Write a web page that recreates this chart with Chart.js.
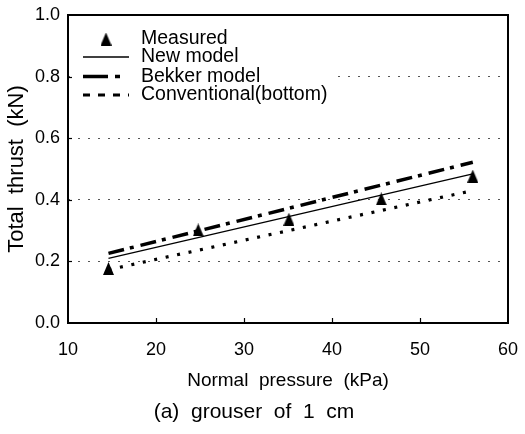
<!DOCTYPE html>
<html>
<head>
<meta charset="utf-8">
<script src="https://cdn.jsdelivr.net/npm/chart.js@4.4.1/dist/chart.umd.min.js"></script>
<style>
html,body{margin:0;padding:0;background:#fff;}
canvas{display:block;}
</style>
</head>
<body>
<canvas id="c" width="525" height="434"></canvas>
<script>
// ---- data ----
const pressure = [14.6, 24.8, 35.1, 45.6, 56.0];          // Normal pressure (kPa)
const measured = [0.177, 0.302, 0.337, 0.403, 0.477];     // Total thrust (kN)
const modelX = [14.6, 56.0];
const newModel = [0.210, 0.484];
const bekkerModel = [0.226, 0.522];
const conventional = [0.173, 0.430];
const xTicks = [10, 20, 30, 40, 50, 60];
const yTicks = [0.0, 0.2, 0.4, 0.6, 0.8, 1.0];
const seriesLabels = ['Measured', 'New model', 'Bekker model', 'Conventional(bottom)'];

const FONT = "'Liberation Sans', Arial, sans-serif";

// triangle marker
const tri = document.createElement('canvas');
tri.width = 11; tri.height = 13;
(function(){
  const t = tri.getContext('2d');
  t.fillStyle = '#000';
  t.beginPath(); t.moveTo(5.5, 0); t.lineTo(11, 13); t.lineTo(0, 13); t.closePath(); t.fill();
})();

const pts = (xs, ys) => xs.map((x, i) => ({x: x, y: ys[i]}));

const frameAndLegend = {
  id: 'frameAndLegend',
  afterDraw(chart) {
    const ctx = chart.ctx;
    const a = chart.chartArea;
    const xs = chart.scales.x, ys = chart.scales.y;
    ctx.save();
    // frame
    ctx.strokeStyle = '#000'; ctx.lineWidth = 2; ctx.setLineDash([]);
    ctx.strokeRect(a.left, a.top, a.right - a.left, a.bottom - a.top);
    // inward tick marks
    ctx.lineWidth = 1.2;
    xTicks.slice(1, -1).forEach(v => {
      const px = Math.round(xs.getPixelForValue(v)) + 0.5;
      ctx.beginPath(); ctx.moveTo(px, a.bottom); ctx.lineTo(px, a.bottom - 5); ctx.stroke();
    });
    yTicks.slice(1, -1).forEach(v => {
      const py = Math.round(ys.getPixelForValue(v)) + 0.5;
      ctx.beginPath(); ctx.moveTo(a.left, py); ctx.lineTo(a.left + 4, py); ctx.stroke();
    });
    // legend (white background hides the grid behind it)
    ctx.fillStyle = '#fff';
    ctx.fillRect(a.left + 4, 28, 262, 76);
    const ds = chart.data.datasets;
    const rows = [39, 57, 76.5, 95];
    const x0 = 83, x1 = 129, tx = 141;
    ctx.font = '19.5px ' + FONT;
    ctx.fillStyle = '#000';
    ctx.textBaseline = 'middle';
    ctx.textAlign = 'left';
    ds.forEach((d, i) => {
      const y = rows[i];
      if (i === 0) {
        ctx.drawImage(tri, (x0 + x1) / 2 - 5.5, y - 6.5);
      } else {
        ctx.strokeStyle = d.borderColor;
        ctx.lineWidth = d.borderWidth;
        ctx.setLineDash(d.legendDash || []);
        ctx.beginPath(); ctx.moveTo(x0, y); ctx.lineTo(x1, y); ctx.stroke();
      }
      ctx.fillText(d.label, tx, y);
    });
    ctx.restore();
  }
};

new Chart(document.getElementById('c'), {
  type: 'scatter',
  data: {
    datasets: [
      { label: seriesLabels[0], data: pts(pressure, measured), pointStyle: tri, pointRadius: 6,
        backgroundColor: '#000', borderColor: '#000', showLine: false, order: 0 },
      { label: seriesLabels[1], data: pts(modelX, newModel), showLine: true, pointRadius: 0,
        borderColor: '#000', borderWidth: 1.3, order: 1 },
      { label: seriesLabels[2], data: pts(modelX, bekkerModel), showLine: true, pointRadius: 0,
        borderColor: '#000', borderWidth: 3.5, borderDash: [16, 6, 4, 7], legendDash: [25, 7, 5, 30], order: 2 },
      { label: seriesLabels[3], data: pts(modelX, conventional), showLine: true, pointRadius: 0,
        borderColor: '#000', borderWidth: 3.2, borderDash: [3, 8.7], legendDash: [7, 8], order: 3 }
    ]
  },
  options: {
    responsive: false,
    animation: false,
    devicePixelRatio: 1,
    layout: { padding: { left: 0, right: 17, top: 15, bottom: 0 } },
    plugins: {
      legend: { display: false },
      tooltip: { enabled: false },
      title: {
        display: true, position: 'bottom', text: '(a)  grouser  of  1  cm',
        color: '#000', font: { family: FONT, size: 21, weight: 'normal' },
        padding: { top: 0, bottom: 9.4 }
      }
    },
    scales: {
      x: {
        type: 'linear', min: 10, max: 60,
        afterBuildTicks: s => { s.ticks = xTicks.map(v => ({value: v})); },
        afterFit: s => { s.height = 76.4; },
        ticks: { color: '#000', font: { family: FONT, size: 18 }, padding: 2, autoSkip: false, maxRotation: 0 },
        grid: { display: false, drawTicks: true, tickLength: 14 },
        border: { display: false },
        title: { display: true, text: 'Normal  pressure  (kPa)', color: '#000',
                 font: { family: FONT, size: 19 }, padding: { top: 0, bottom: 7 } }
      },
      y: {
        type: 'linear', min: 0, max: 1,
        afterBuildTicks: s => { s.ticks = yTicks.map(v => ({value: v})); },
        afterFit: s => { s.width = 68; },
        ticks: { color: '#000', font: { family: FONT, size: 18 }, padding: 2,
                 callback: v => Number(v).toFixed(1) },
        grid: { drawTicks: true, tickLength: 6, tickColor: 'rgba(0,0,0,0)', lineWidth: 1,
                color: c => (c.tick && (c.tick.value === 0 || c.tick.value === 1)) ? 'rgba(0,0,0,0)' : '#555' },
        border: { display: false, dash: [2, 8] },
        title: { display: true, text: 'Total  thrust  (kN)', color: '#000',
                 font: { family: FONT, size: 22 }, padding: { top: 4, bottom: 0 } }
      }
    }
  },
  plugins: [frameAndLegend]
});
</script>
</body>
</html>
